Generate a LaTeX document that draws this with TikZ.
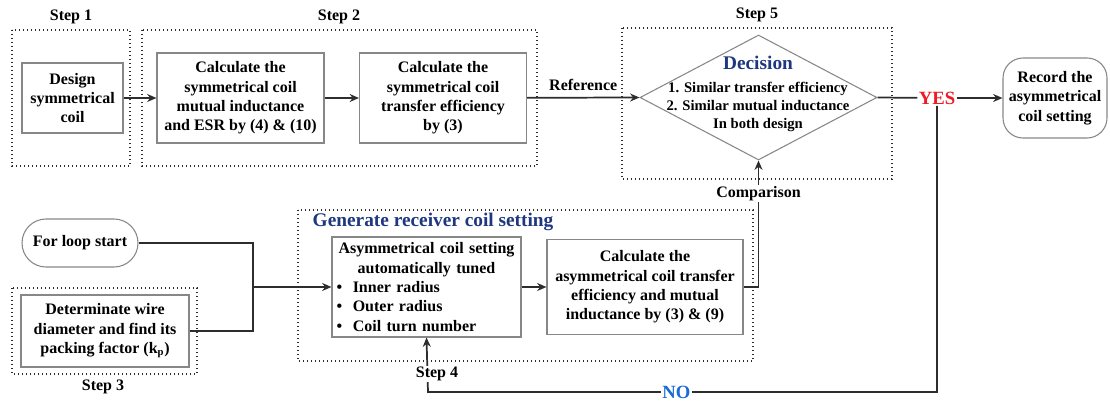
\documentclass[tikz,border=0pt]{standalone}
\usepackage{fontspec}
\setmainfont{Liberation Serif}
\usetikzlibrary{shapes.geometric,arrows.meta}
\definecolor{navy}{RGB}{30,55,128}
\definecolor{nocol}{RGB}{25,105,215}
\definecolor{yescol}{RGB}{240,25,35}
\definecolor{edge}{RGB}{135,135,135}
\definecolor{ink}{RGB}{45,45,45}
\begin{document}
\begin{tikzpicture}[x=0.75pt,y=-0.75pt,>={Stealth[length=7pt,width=6pt]},
  txt/.style={font=\fontsize{12}{14.5}\selectfont\bfseries,align=center},
  box/.style={txt,draw=edge,line width=0.8pt,inner sep=2pt},
  frame/.style={draw=ink,line width=1pt,dash pattern=on 1pt off 2pt},
  line/.style={draw=ink,line width=1.3pt}]
\useasboundingbox (0,0) rectangle (1110,403);
% dotted step frames
\draw[frame] (12,30) rectangle (130,166);
\draw[frame] (142,30) rectangle (537,166);
\draw[frame] (622,28) rectangle (892,179);
\draw[frame] (12,288) rectangle (197,374);
\draw[frame] (298,210) rectangle (753,361);
\node[txt] (s1) at (71,17) {Step 1};
\node[txt] (s2) at (339,17) {Step 2};
\node[txt] (s5) at (757,15) {Step 5};
\node[txt] (s3) at (103,387) {Step 3};
\node[txt,font=\fontsize{14.5}{17}\selectfont\bfseries,text=navy,anchor=west] (gen) at (308,222) {Generate receiver coil setting};
% upper row
\node[box,minimum width=75.75pt,minimum height=52.5pt] (design) at (72.5,98) {Design\\symmetrical\\coil};
\node[box,minimum width=125.25pt,minimum height=67.5pt] (calcM) at (240.5,98) {Calculate the\\symmetrical coil\\mutual inductance\\and ESR by (4) \& (10)};
\node[box,minimum width=125.25pt,minimum height=67.5pt] (calcE) at (443,98) {Calculate the\\symmetrical coil\\transfer efficiency\\by (3)};
\node[diamond,draw=edge,line width=0.8pt,minimum width=177.75pt,minimum height=93.75pt,inner sep=0pt] (dec) at (758.5,97.5) {};
\node[txt,font=\fontsize{14.5}{17}\selectfont\bfseries,text=navy] (dectitle) at (758,63) {Decision};
\node[txt,font=\fontsize{11}{13.5}\selectfont\bfseries] (decrule) at (758,107) {1. Similar transfer efficiency\\2. Similar mutual inductance\\In both design};
\node[txt,font=\fontsize{14}{16}\selectfont\bfseries,text=yescol,inner sep=1pt] (yes) at (937,98) {YES};
\node[box,rounded corners=15pt,minimum width=78pt,minimum height=60pt] (record) at (1055,98) {Record the\\asymmetrical\\coil setting};
% lower row
\node[box,rounded corners=18pt,minimum width=87pt,minimum height=36pt] (loop) at (80,243) {For loop start};
\node[box,minimum width=126pt,minimum height=54pt] (determ) at (105,331) {Determinate wire\\diameter and find its\\packing factor (k\textsubscript{p})};
\node[box,minimum width=141.75pt,minimum height=75pt,text width=135pt,align=left] (asym) at (426.5,287) {{\centering Asymmetrical coil setting\\automatically tuned\par}\textbullet\hspace{8pt}Inner radius\\\textbullet\hspace{8pt}Outer radius\\\textbullet\hspace{8pt}Coil turn number};
\node[box,minimum width=147pt,minimum height=71.25pt] (calcA) at (645,287) {Calculate the\\asymmetrical coil transfer\\efficiency and mutual\\inductance by (3) \& (9)};
\coordinate (joint) at (253,287);
\coordinate (noturn) at (428,392);
% connectors
\draw[line,->] (design) -- (calcM);
\draw[line,->] (calcM) -- (calcE);
\draw[line,->] (calcE) -- node[txt,above=1pt] (ref) {Reference} (dec.west);
\draw[line] (dec.east) -- (yes);
\draw[line,->] (yes) -- (record);
\draw[line] (loop.east) -| (joint);
\draw[line] (determ.east) -| (joint);
\draw[line,->] (joint) -- (asym);
\draw[line,->] (asym) -- (calcA);
\draw[line,->] (calcA.east) -| node[txt,fill=white,inner sep=1pt,pos=0.87] (cmp) {Comparison} (dec.south);
\draw[line,->] (yes.south) |- node[txt,font=\fontsize{14}{16}\selectfont\bfseries,text=nocol,fill=white,inner sep=1pt,pos=0.756] (no) {NO} (noturn) -- (asym.south);
\node[txt,fill=white,inner sep=1pt] (s4) at (437,374) {Step 4};
\end{tikzpicture}
\end{document}
